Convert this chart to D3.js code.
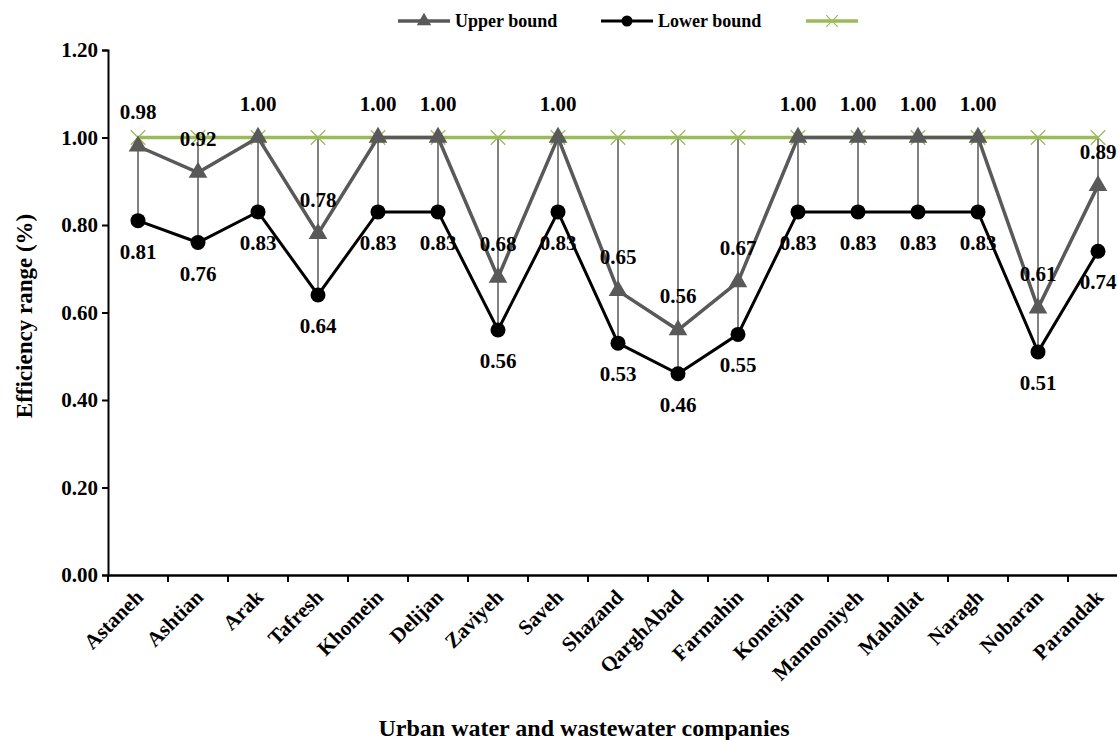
<!DOCTYPE html>
<html>
<head>
<meta charset="UTF-8">
<script src="https://d3js.org/d3.v7.min.js"></script>
<style>
  body { margin: 0; background: #fff; }
  svg text { font-family: "Liberation Serif", "DejaVu Serif", serif !important; font-weight: bold; }
</style>
</head>
<body>
<svg width="1117" height="740"></svg>
<script>
// données
const companies = ["Astaneh", "Ashtian", "Arak", "Tafresh", "Khomein", "Delijan", "Zaviyeh", "Saveh",
  "Shazand", "QarghAbad", "Farmahin", "Komeijan", "Mamooniyeh", "Mahallat", "Naragh", "Nobaran", "Parandak"];
const upperBound = [0.98, 0.92, 1.00, 0.78, 1.00, 1.00, 0.68, 1.00, 0.65, 0.56, 0.67, 1.00, 1.00, 1.00, 1.00, 0.61, 0.89];
const lowerBound = [0.81, 0.76, 0.83, 0.64, 0.83, 0.83, 0.56, 0.83, 0.53, 0.46, 0.55, 0.83, 0.83, 0.83, 0.83, 0.51, 0.74];
const frontier = [1, 1, 1, 1, 1, 1, 1, 1, 1, 1, 1, 1, 1, 1, 1, 1, 1];
const yTicks = [0, 0.2, 0.4, 0.6, 0.8, 1.0, 1.2];

const svg = d3.select("svg");
const grey = "#595959", green = "#9bbb59";

const x = d3.scaleBand().domain(companies).range([108, 1128]);
const cx = d => x(d) + x.bandwidth() / 2;
const y = d3.scaleLinear().domain([0, 1.2]).range([575, 50]);

// axes
const yAxis = svg.append("g").attr("transform", "translate(108,0)")
  .call(d3.axisLeft(y).tickValues(yTicks).tickFormat(d3.format(".2f")).tickSizeOuter(0).tickSize(6));
yAxis.attr("font-family", null);
yAxis.select(".domain").attr("stroke-width", 2);
yAxis.selectAll("line").attr("stroke-width", 2);
yAxis.selectAll("text").attr("font-size", 21).attr("fill", "#000").attr("x", -10);

const xAxis = svg.append("g").attr("transform", "translate(0,575)")
  .call(d3.axisBottom(x).tickSize(0).tickSizeOuter(0));
xAxis.attr("font-family", null);
xAxis.select(".domain").attr("stroke-width", 2.5);
xAxis.selectAll(".tick line").remove();
xAxis.selectAll("text")
  .attr("font-size", 21).attr("fill", "#000")
  .attr("text-anchor", "end")
  .attr("transform", "translate(-4,13) rotate(-45)")
  .attr("dy", "0.7em").attr("y", 0);
// graduations entre catégories
svg.append("g").selectAll("line").data(companies).enter().append("line")
  .attr("x1", d => x(d)).attr("x2", d => x(d))
  .attr("y1", 575).attr("y2", 582)
  .attr("stroke", "#000").attr("stroke-width", 2);

// lignes haut-bas
svg.append("g").selectAll("line").data(companies).enter().append("line")
  .attr("x1", cx).attr("x2", cx)
  .attr("y1", (d, i) => y(frontier[i])).attr("y2", (d, i) => y(lowerBound[i]))
  .attr("stroke", grey).attr("stroke-width", 1.5);

const line = vals => d3.line().x((d, i) => cx(companies[i])).y(d => y(d))(vals);

// frontière verte
svg.append("path").attr("d", line(frontier)).attr("fill", "none")
  .attr("stroke", green).attr("stroke-width", 3.5);
const crossSym = d3.symbol().type(d3.symbolX).size(140);
svg.append("g").selectAll("path").data(frontier).enter().append("path")
  .attr("d", crossSym)
  .attr("transform", (d, i) => `translate(${cx(companies[i])},${y(d)})`)
  .attr("stroke", green).attr("stroke-width", 1.3).attr("fill", "none");

// borne inférieure
svg.append("path").attr("d", line(lowerBound)).attr("fill", "none")
  .attr("stroke", "#000").attr("stroke-width", 3);
svg.append("g").selectAll("circle").data(lowerBound).enter().append("circle")
  .attr("cx", (d, i) => cx(companies[i])).attr("cy", d => y(d)).attr("r", 7.5).attr("fill", "#000");

// borne supérieure
svg.append("path").attr("d", line(upperBound)).attr("fill", "none")
  .attr("stroke", grey).attr("stroke-width", 3.5);
const triSym = d3.symbol().type(d3.symbolTriangle).size(150);
svg.append("g").selectAll("path").data(upperBound).enter().append("path")
  .attr("d", triSym)
  .attr("transform", (d, i) => `translate(${cx(companies[i])},${y(d)})`)
  .attr("fill", grey);

// étiquettes
svg.append("g").selectAll("text").data(upperBound).enter().append("text")
  .attr("x", (d, i) => cx(companies[i])).attr("y", d => y(d) - 27)
  .attr("text-anchor", "middle").attr("font-size", 21)
  .text(d => d.toFixed(2));
svg.append("g").selectAll("text").data(lowerBound).enter().append("text")
  .attr("x", (d, i) => cx(companies[i])).attr("y", d => y(d) + 38)
  .attr("text-anchor", "middle").attr("font-size", 21)
  .text(d => d.toFixed(2));

// titres
svg.append("text").attr("transform", "translate(32,316) rotate(-90)")
  .attr("text-anchor", "middle").attr("font-size", 23).text("Efficiency range (%)");
svg.append("text").attr("x", 584).attr("y", 736)
  .attr("text-anchor", "middle").attr("font-size", 24).text("Urban water and wastewater companies");

// légende
const lg = svg.append("g");
const triSmall = d3.symbol().type(d3.symbolTriangle).size(90);
lg.append("line").attr("x1", 398).attr("x2", 450).attr("y1", 21).attr("y2", 21).attr("stroke", grey).attr("stroke-width", 3.5);
lg.append("path").attr("d", triSmall).attr("transform", "translate(424,21)").attr("fill", grey);
lg.append("text").attr("x", 455).attr("y", 27).attr("font-size", 18).text("Upper bound");
lg.append("line").attr("x1", 601).attr("x2", 653).attr("y1", 21).attr("y2", 21).attr("stroke", "#000").attr("stroke-width", 3);
lg.append("circle").attr("cx", 627).attr("cy", 21).attr("r", 5.5).attr("fill", "#000");
lg.append("text").attr("x", 658).attr("y", 27).attr("font-size", 18).text("Lower bound");
lg.append("line").attr("x1", 806).attr("x2", 858).attr("y1", 21).attr("y2", 21).attr("stroke", green).attr("stroke-width", 3.5);
lg.append("path").attr("d", d3.symbol().type(d3.symbolX).size(90)).attr("transform", "translate(832,21)").attr("stroke", green).attr("stroke-width", 1.2).attr("fill", "none");
</script>
</body>
</html>
